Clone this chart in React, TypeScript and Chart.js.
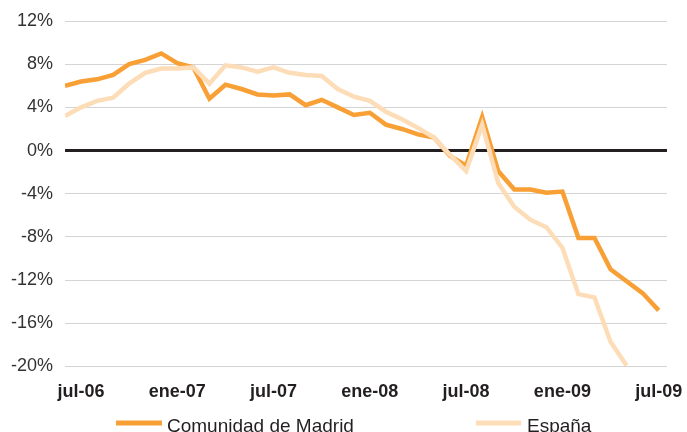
import React, { useEffect, useRef } from "react";
import { Chart, registerables } from "chart.js";

Chart.register(...registerables);

// Months from jun-06 to jul-09
const months: string[] = [
  "jun-06", "jul-06", "ago-06", "sep-06", "oct-06", "nov-06", "dic-06",
  "ene-07", "feb-07", "mar-07", "abr-07", "may-07", "jun-07", "jul-07", "ago-07", "sep-07", "oct-07", "nov-07", "dic-07",
  "ene-08", "feb-08", "mar-08", "abr-08", "may-08", "jun-08", "jul-08", "ago-08", "sep-08", "oct-08", "nov-08", "dic-08",
  "ene-09", "feb-09", "mar-09", "abr-09", "may-09", "jun-09", "jul-09",
];

const madrid: (number | null)[] = [
  6.0, 6.4, 6.6, 7.0, 8.0, 8.4, 9.0, 8.1, 7.7, 4.8,
  6.1, 5.7, 5.2, 5.1, 5.2, 4.2, 4.7, 4.0, 3.3, 3.5,
  2.4, 2.0, 1.5, 1.2, -0.5, -1.4, 3.1, -1.9, -3.6, -3.6,
  -3.9, -3.8, -8.1, -8.1, -11.0, -12.1, -13.2, -14.8,
];

const espana: (number | null)[] = [
  3.2, 4.0, 4.6, 4.9, 6.2, 7.2, 7.6, 7.6, 7.7, 6.2,
  7.9, 7.7, 7.3, 7.7, 7.2, 7.0, 6.9, 5.7, 5.0, 4.6,
  3.6, 2.9, 2.1, 1.2, -0.4, -1.9, 2.4, -3.0, -5.2, -6.4,
  -7.1, -9.0, -13.3, -13.6, -17.7, -19.9, null, null,
];

const seriesNames = ["Comunidad de Madrid", "España"];
const seriesColors = ["#F8A035", "#FDDDB8"];

const FONT = "'Liberation Sans', Arial, Helvetica, sans-serif";

// legend layout (x of line start, line end, text start)
const legendLayout = [
  { x1: 116, x2: 162, tx: 167 },
  { x1: 476, x2: 521, tx: 527 },
];

const legendPlugin = {
  id: "customLegend",
  afterDraw(chart: any) {
    const ctx = chart.ctx;
    ctx.save();
    chart.data.datasets.forEach((ds: any) => {
      const l = legendLayout[ds.legendIndex];
      ctx.strokeStyle = ds.borderColor;
      ctx.lineWidth = 5;
      ctx.lineCap = "butt";
      ctx.beginPath();
      ctx.moveTo(l.x1, 423);
      ctx.lineTo(l.x2, 423);
      ctx.stroke();
      ctx.fillStyle = "#231F20";
      ctx.font = `19px ${FONT}`;
      ctx.textBaseline = "alphabetic";
      ctx.textAlign = "left";
      ctx.fillText(ds.label, l.tx, 431.5);
    });
    ctx.restore();
  },
};

export default function App() {
  const ref = useRef<HTMLCanvasElement | null>(null);

  useEffect(() => {
    if (!ref.current) return;
    const tickIdx = months
      .map((m, i) => (m.startsWith("jul") || m.startsWith("ene") ? i : -1))
      .filter((i) => i >= 0);

    const chart = new Chart(ref.current, {
      type: "line",
      data: {
        datasets: [
          {
            label: seriesNames[1],
            legendIndex: 1,
            data: espana.map((y, i) => ({ x: i, y })),
            borderColor: seriesColors[1],
            backgroundColor: seriesColors[1],
            borderWidth: 4.5,
            pointRadius: 0,
            tension: 0,
            spanGaps: false,
            order: 0,
          } as any,
          {
            label: seriesNames[0],
            legendIndex: 0,
            data: madrid.map((y, i) => ({ x: i, y })),
            borderColor: seriesColors[0],
            backgroundColor: seriesColors[0],
            borderWidth: 4.5,
            pointRadius: 0,
            tension: 0,
            order: 1,
          } as any,
        ],
      },
      options: {
        responsive: false,
        animation: false,
        layout: { padding: { left: 0, right: 20, top: 21, bottom: 0 } },
        plugins: {
          legend: { display: false },
          tooltip: { enabled: false },
        },
        scales: {
          x: {
            type: "linear",
            min: 0,
            max: 37.52,
            grid: { display: false },
            border: { display: false },
            afterBuildTicks: (axis: any) => {
              axis.ticks = tickIdx.map((v) => ({ value: v }));
            },
            afterFit: (axis: any) => {
              axis.height = 65.5;
              axis.paddingLeft = 0;
              axis.paddingRight = 0;
            },
            ticks: {
              autoSkip: false,
              maxRotation: 0,
              padding: 7,
              color: "#231F20",
              font: { family: FONT, size: 18, weight: "bold" },
              callback: (v: any) => months[Math.round(Number(v))] ?? "",
            },
          },
          y: {
            min: -20,
            max: 12,
            border: { display: false },
            afterFit: (axis: any) => {
              axis.width = 65;
              axis.paddingTop = 0;
              axis.paddingBottom = 0;
            },
            grid: {
              drawTicks: false,
              color: (c: any) => (c.tick && c.tick.value === 0 ? "#231F20" : "#D4D4D4"),
              lineWidth: (c: any) => (c.tick && c.tick.value === 0 ? 3 : 1),
            },
            ticks: {
              stepSize: 4,
              padding: 12,
              color: "#333333",
              font: { family: FONT, size: 18 },
              callback: (v: any) => `${v}%`,
            },
          },
        },
      } as any,
      plugins: [legendPlugin],
    });
    return () => chart.destroy();
  }, []);

  return (
    <div style={{ position: "fixed", left: 0, top: 0, width: 687, height: 432, background: "#fff" }}>
      <canvas ref={ref} width={687} height={432} style={{ display: "block" }} />
    </div>
  );
}
